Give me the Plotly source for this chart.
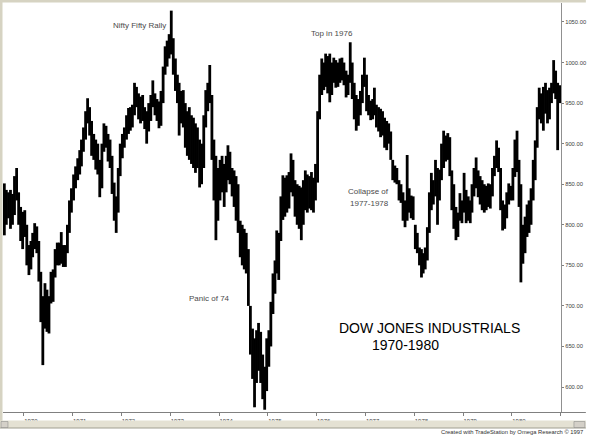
import datetime as dt
import plotly.graph_objects as go

# ---- Data: semi-monthly high / low of the Dow Jones Industrials ----
high_1969 = [851, 843, 840, 843, 838, 860, 870, 840, 822, 816]
low_1969 = [787, 800, 808, 795, 800, 812, 830, 800, 780, 770]

high_1970 = [818, 800, 775, 780, 790, 802, 798, 780, 742, 712, 728, 720,
             712, 742, 745, 770, 778, 778, 791, 775, 775, 800, 830, 845]
low_1970 = [785, 750, 738, 745, 760, 770, 765, 730, 680, 627, 672, 668,
            666, 703, 705, 735, 750, 750, 752, 748, 748, 765, 790, 815]

high_1971 = [862, 872, 882, 892, 905, 920, 940, 956, 945, 928, 912, 905,
             900, 880, 900, 925, 922, 912, 905, 885, 852, 835, 870, 900]
low_1971 = [830, 845, 855, 862, 872, 890, 905, 925, 910, 885, 880, 868,
            862, 834, 845, 890, 895, 878, 870, 838, 805, 790, 815, 860]

high_1972 = [912, 920, 935, 944, 945, 948, 975, 970, 962, 958, 960, 945,
             940, 950, 960, 978, 962, 955, 952, 965, 995, 1020, 1027, 1035]
low_1972 = [882, 895, 905, 912, 916, 920, 935, 945, 930, 925, 928, 918,
            900, 915, 928, 945, 935, 928, 919, 922, 950, 985, 995, 1005]

high_1973 = [1064, 1030, 1005, 985, 975, 965, 966, 950, 940, 945, 935, 932,
             925, 920, 905, 900, 935, 966, 975, 997, 960, 905, 885, 870]
low_1973 = [1010, 985, 965, 950, 910, 925, 920, 895, 885, 880, 875, 870,
            864, 870, 846, 850, 870, 920, 940, 950, 880, 830, 781, 805]

high_1974 = [880, 885, 875, 885, 898, 890, 870, 867, 860, 850, 805, 800,
             795, 790, 770, 700, 672, 660, 670, 679, 668, 640, 625, 660]
low_1974 = [830, 840, 822, 840, 855, 850, 835, 822, 805, 790, 760, 750,
            745, 740, 700, 640, 610, 575, 605, 620, 605, 585, 572, 595]

high_1975 = [670, 705, 740, 756, 793, 790, 835, 861, 858, 861, 865, 888,
             880, 855, 850, 848, 846, 855, 867, 862, 860, 865, 858, 875]
low_1975 = [625, 650, 690, 715, 740, 732, 780, 806, 810, 815, 820, 840,
            835, 810, 800, 795, 781, 800, 818, 815, 820, 818, 815, 830]

high_1976 = [940, 985, 1005, 1000, 1011, 1008, 1011, 1000, 1006, 1003, 1000, 1005,
             1006, 1000, 990, 985, 1025, 1000, 975, 960, 955, 965, 985, 1006]
low_1976 = [852, 930, 960, 966, 970, 962, 951, 960, 975, 969, 970, 975,
            978, 972, 957, 960, 975, 955, 930, 916, 922, 935, 950, 970]

high_1977 = [985, 960, 953, 955, 969, 948, 945, 943, 940, 932, 928, 925,
             915, 880, 873, 870, 855, 850, 840, 830, 886, 845, 836, 835]
low_1977 = [940, 935, 929, 930, 935, 920, 915, 908, 910, 895, 892, 900,
            880, 855, 852, 850, 830, 827, 805, 797, 805, 815, 808, 806]

high_1978 = [800, 790, 772, 770, 765, 772, 797, 840, 864, 855, 880, 870,
             868, 900, 916, 910, 913, 908, 867, 850, 822, 815, 839, 830]
low_1978 = [770, 765, 750, 735, 740, 745, 756, 790, 818, 825, 835, 800,
            830, 855, 870, 878, 880, 860, 818, 795, 781, 785, 805, 802]

high_1979 = [864, 843, 835, 830, 850, 870, 883, 867, 860, 855, 850, 848,
             851, 850, 870, 885, 904, 895, 870, 830, 825, 840, 851, 848]
low_1979 = [815, 802, 805, 802, 815, 835, 845, 834, 825, 818, 815, 818,
            822, 820, 835, 860, 870, 865, 818, 793, 795, 808, 825, 830]

high_1980 = [870, 905, 916, 880, 850, 800, 810, 825, 830, 845, 880, 904,
             945, 969, 962, 970, 975, 966, 969, 975, 1003, 990, 975, 972]
low_1980 = [830, 859, 865, 822, 729, 752, 765, 785, 790, 800, 830, 855,
            895, 930, 925, 916, 937, 925, 930, 950, 962, 955, 892, 950]

highs = (high_1969 + high_1970 + high_1971 + high_1972 + high_1973 + high_1974 +
         high_1975 + high_1976 + high_1977 + high_1978 + high_1979 + high_1980)
lows = (low_1969 + low_1970 + low_1971 + low_1972 + low_1973 + low_1974 +
        low_1975 + low_1976 + low_1977 + low_1978 + low_1979 + low_1980)

months = [(1969, m) for m in range(8, 13)] + [(y, m) for y in range(1970, 1981) for m in range(1, 13)]
dates = [dt.date(y, m, d) for (y, m) in months for d in (8, 23)]

year_ticks = [dt.date(y, 1, 1) for y in range(1970, 1982)]
year_labels = [str(y) for y in range(1970, 1981)] + [""]
price_ticks = [600, 650, 700, 750, 800, 850, 900, 950, 1000, 1050]
price_labels = ["600.00", "650.00", "700.00", "750.00", "800.00", "850.00",
                "900.00", "950.00", "1000.00", "1050.00"]

# ---- Layout helpers (pixel -> paper) ----
W, H = 589, 436
ML, MR, MT, MB = 3, 25, 3, 24
PW, PH = W - ML - MR, H - MT - MB


def px(x):
    return (x - ML) / PW


def py(y):
    return (H - MB - y) / PH


# each high-low range drawn as a vertical segment (bar chart style)
seg_x, seg_y = [], []
for d, h, l in zip(dates, highs, lows):
    seg_x += [d, d, None]
    seg_y += [l, h, None]

fig = go.Figure(go.Scatter(
    x=seg_x, y=seg_y, mode="lines",
    line=dict(color="#000000", width=2.8),
    connectgaps=False, hoverinfo="skip",
))

FONT = "Liberation Sans, Arial, sans-serif"

fig.update_layout(
    width=W, height=H,
    margin=dict(l=ML, r=MR, t=MT, b=MB, pad=0),
    paper_bgcolor="white", plot_bgcolor="white",
    showlegend=False,
    font=dict(family=FONT),
)

fig.update_xaxes(
    type="date", range=["1969-07-29", "1981-01-02"],
    tickvals=year_ticks, ticktext=year_labels,
    ticks="outside", ticklen=3, tickwidth=1, tickcolor="#808080",
    showgrid=False, zeroline=False,
    showline=True, linecolor="#808080", linewidth=1,
    tickfont=dict(family=FONT, size=6, color="#404040"),
    ticklabelshift=7, ticklabelstandoff=0,
    fixedrange=True,
)
fig.update_yaxes(
    side="right", range=[569.2, 1073.4],
    tickvals=price_ticks, ticktext=price_labels,
    ticks="outside", ticklen=2, tickwidth=1, tickcolor="#808080",
    showgrid=False, zeroline=False,
    showline=True, linecolor="#909090", linewidth=1,
    tickfont=dict(family=FONT, size=5.8, color="#404040"),
    ticklabelstandoff=0, ticklabeloverflow="allow",
    fixedrange=True,
)

BEIGE = "#d6d3c2"
shapes = [
    # top & left window frame
    dict(type="rect", xref="paper", yref="paper", x0=px(0), x1=px(W), y0=py(2.5), y1=py(0),
         fillcolor=BEIGE, line=dict(width=0), layer="above"),
    dict(type="rect", xref="paper", yref="paper", x0=px(0), x1=px(2.5), y0=py(428), y1=py(0),
         fillcolor=BEIGE, line=dict(width=0), layer="above"),
    # x-axis line extension under the price scale
    dict(type="line", xref="paper", yref="paper", x0=px(564), x1=px(W), y0=py(412.5), y1=py(412.5),
         line=dict(color="#808080", width=1)),
    # scroll bar
    dict(type="rect", xref="paper", yref="paper", x0=px(0), x1=px(W), y0=py(428), y1=py(420.5),
         fillcolor="#e4e1d3", line=dict(width=0)),
    dict(type="line", xref="paper", yref="paper", x0=px(0), x1=px(W), y0=py(428), y1=py(428),
         line=dict(color="#a09e90", width=1)),
    dict(type="rect", xref="paper", yref="paper", x0=px(1), x1=px(8), y0=py(427.5), y1=py(421.5),
         fillcolor="#d4d0c8", line=dict(color="#808080", width=0.5)),
    dict(type="rect", xref="paper", yref="paper", x0=px(577), x1=px(588), y0=py(427.5), y1=py(421.5),
         fillcolor="#d4d0c8", line=dict(color="#808080", width=0.5)),
]
fig.update_layout(shapes=shapes)

SMALL = dict(family=FONT, size=8, color="#4a4a4a")
BIG = dict(family=FONT, size=14, color="#000000")
ann = [
    ("Nifty Fifty Rally", 140, 26, SMALL),
    ("Top in 1976", 334, 34, SMALL),
    ("Collapse of", 370, 191, SMALL),
    ("1977-1978", 371, 203, SMALL),
    ("Panic of 74", 211, 298, SMALL),
    ("DOW JONES INDUSTRIALS", 432, 328, BIG),
    ("1970-1980", 408, 345, BIG),
]
annotations = [
    dict(text=t, x=px(x), y=py(y), xref="paper", yref="paper", showarrow=False,
         xanchor="center", yanchor="middle", font=f)
    for (t, x, y, f) in ann
]
annotations.append(dict(
    text="Created with TradeStation by Omega Research \u00a9 1997",
    x=px(588), y=py(432), xref="paper", yref="paper", showarrow=False,
    xanchor="right", yanchor="middle",
    font=dict(family=FONT, size=5.8, color="#303030"),
))
fig.update_layout(annotations=annotations)

fig.write_html(
    "out.html",
    config={"displayModeBar": False},
    post_script="document.body.style.margin='0px';document.body.style.overflow='hidden';",
)
